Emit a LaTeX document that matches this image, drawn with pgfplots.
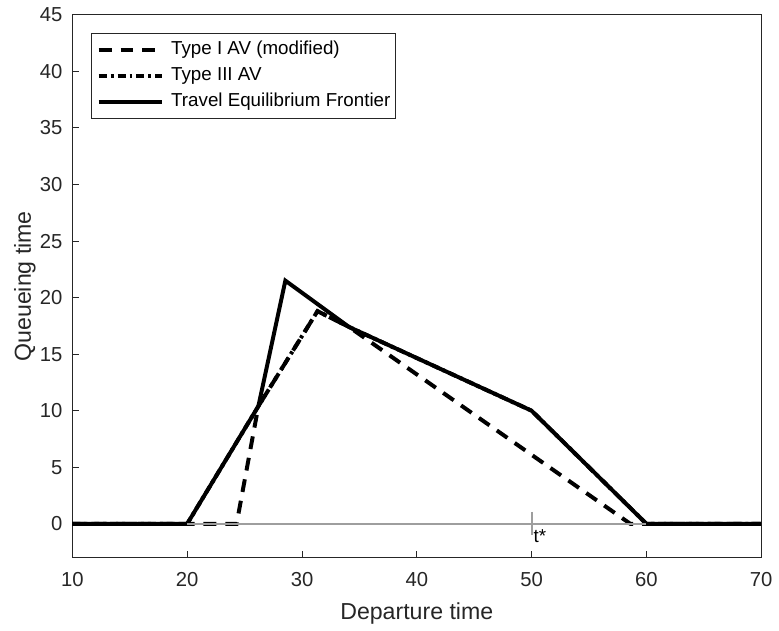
\documentclass[border=0pt]{standalone}
\usepackage{fontspec}
\setmainfont{Liberation Sans}
\usepackage{pgfplots}
\pgfplotsset{compat=1.18}
\definecolor{axgray}{gray}{0.15}
\definecolor{basegray}{gray}{0.62}

\begin{document}
\begin{tikzpicture}
\begin{axis}[
    name=ax,
    scale only axis,
    width=347bp, height=273.5bp,
    xmin=10, xmax=70, ymin=-3, ymax=45,
    xtick={10,20,...,70}, ytick={0,5,...,45},
    tick align=inside, xtick pos=bottom, ytick pos=left,
    major tick length=3.5bp,
    axis line style={axgray, line width=0.5bp},
    every tick/.style={axgray, line width=0.5bp},
    /pgf/number format/assume math mode=true,
    ticklabel style={font=\fontsize{10.2bp}{12bp}\selectfont, text=axgray},
    xticklabel style={yshift=-4bp},
    yticklabel style={xshift=-1.6bp},
    xlabel={Departure time}, ylabel={Queueing time},
    label style={font=\fontsize{11.65bp}{14bp}\selectfont, text=axgray},
    xlabel style={at={(axis description cs:0.5,-0.1024)}, anchor=center},
    ylabel style={at={(axis description cs:-0.069,0.5)}, anchor=center},
    legend cell align=left,
    legend image code/.code={\draw[#1] (0bp,0bp) -- (32bp,0bp); \path (35.5bp,0bp);},
    legend style={
        at={(axis description cs:0.02695,0.9665)}, anchor=north west,
        draw=axgray, line width=0.5bp,
        font=\fontsize{9.45bp}{11bp}\selectfont, text=black,
        inner xsep=2.65bp, inner ysep=3.6bp, row sep=4.2bp,
        nodes={inner sep=0pt, text height=7bp, text depth=2bp}},
]

% Type I AV (modified)
\addplot[black, line width=2bp, dash pattern=on 6.5bp off 4.5bp] coordinates {
    (10,0) (20,0) (24.3,0) (26.2,10.4) (31.35,18.8) (34.1,17.4) (50,6.1) (58.6,0) (60,0) (70,0)
};
\addlegendentry{Type I AV (modified)}

% Type III AV
\addplot[black, line width=2bp, dash pattern=on 4bp off 2bp on 1.5bp off 2bp] coordinates {
    (10,0) (20,0) (26.2,10.4) (31.35,18.8) (34.1,17.4) (50,10) (60,0) (70,0)
};
\addlegendentry{Type III AV}

% Travel Equilibrium Frontier
\addplot[black, line width=2bp] coordinates {
    (10,0) (20,0) (26.2,10.4) (28.55,21.5) (34.1,17.4) (50,10) (60,0) (70,0)
};
\addlegendentry{Travel Equilibrium Frontier}

% baseline and t* marker
\addplot[basegray, line width=1bp, forget plot] coordinates {(20,0) (60,0)};
\addplot[basegray, line width=1bp, forget plot] coordinates {(50,1.05) (50,-0.96)};
\node[anchor=north west, inner sep=0pt, text=black,
      font=\fontsize{9.45bp}{11bp}\selectfont] at (axis cs:50.15,-0.45) {t*};
\end{axis}
\path (ax.south west) ++(-36.5bp,-34bp) rectangle ([xshift=6bp,yshift=7.5bp]ax.north east);
\end{tikzpicture}
\end{document}
